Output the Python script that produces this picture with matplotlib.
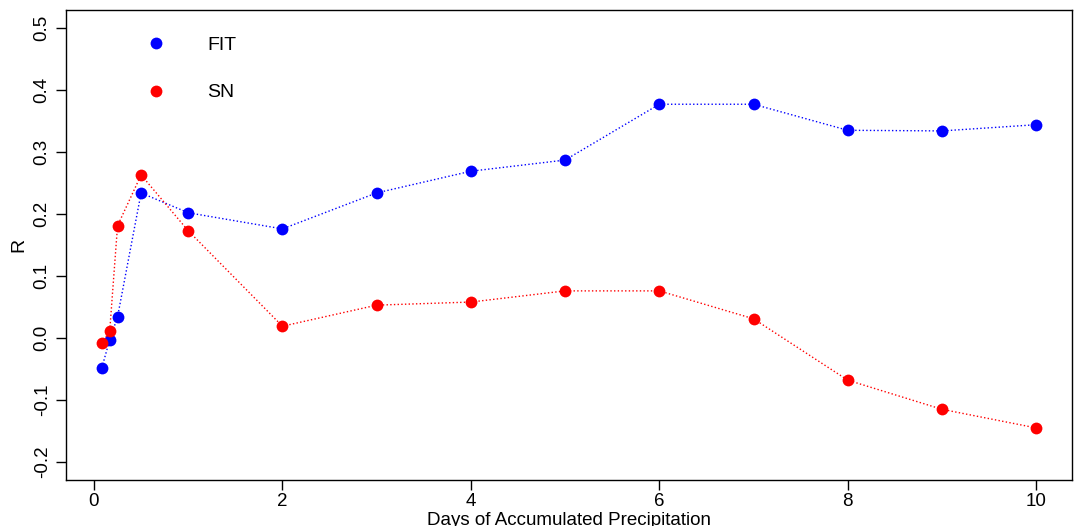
import matplotlib
matplotlib.use("Agg")
import matplotlib.pyplot as plt

plt.rcParams['font.family'] = ['Liberation Sans', 'DejaVu Sans']

days = [1/12, 1/6, 0.25, 0.5, 1, 2, 3, 4, 5, 6, 7, 8, 9, 10]
fit = [-0.048, -0.003, 0.034, 0.234, 0.202, 0.176, 0.234, 0.269, 0.287, 0.377, 0.377, 0.335, 0.334, 0.344]
sn = [-0.008, 0.011, 0.181, 0.263, 0.173, 0.019, 0.053, 0.058, 0.076, 0.076, 0.031, -0.068, -0.115, -0.145]
xticks = [0, 2, 4, 6, 8, 10]
yticks = [-0.2, -0.1, 0.0, 0.1, 0.2, 0.3, 0.4, 0.5]
ylabels = ['-0.2', '-0.1', '0.0', '0.1', '0.2', '0.3', '0.4', '0.5']

W, H = 1079, 526
fig = plt.figure(figsize=(W/100, H/100), dpi=100)
ax = fig.add_axes([66/W, 1 - 480/H, (1072-66)/W, (480-10)/H])

ax.plot(days, fit, color='blue', linestyle=':', linewidth=1.0, marker='o',
        markersize=8.5, markeredgewidth=0, label='FIT')
ax.plot(days, sn, color='red', linestyle=':', linewidth=1.0, marker='o',
        markersize=8.5, markeredgewidth=0, label='SN')

ax.set_xlim(-0.297, 10.38)
ax.set_ylim(-0.229, 0.529)
ax.set_xticks(xticks)
ax.set_xticklabels([str(t) for t in xticks])
ax.set_yticks(yticks)
ax.set_yticklabels(ylabels, rotation=90, va='center')
ax.tick_params(axis='both', direction='out', length=7, width=1, labelsize=13.5, pad=4)
ax.tick_params(axis='x', pad=2.5)
for s in ax.spines.values():
    s.set_linewidth(1)

ax.set_xlabel('Days of Accumulated Precipitation', fontsize=13.5)
ax.xaxis.set_label_coords(0.5, -0.068)
ax.set_ylabel('R', fontsize=14)
ax.yaxis.set_label_coords(-0.038, 0.5)

leg = ax.legend(loc='upper left', bbox_to_anchor=(0.072, 0.982), frameon=False,
                fontsize=14, handlelength=0, handletextpad=2.65, labelspacing=1.55,
                markerscale=1.0)
for h in leg.legend_handles:
    h.set_linestyle('None')

fig.savefig('out.png', dpi=100)
